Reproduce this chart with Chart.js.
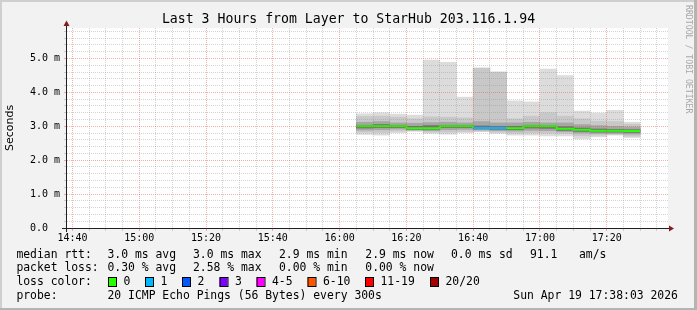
<!DOCTYPE html>
<html>
<head>
<meta charset="utf-8">
<title>Last 3 Hours from Layer to StarHub 203.116.1.94</title>
<script src="https://cdn.jsdelivr.net/npm/chart.js@4.4.1/dist/chart.umd.min.js"></script>
<style>
  html, body { margin: 0; padding: 0; background: #f2f2f2; }
  canvas { display: block; }
</style>
</head>
<body>
<canvas id="smoke" width="697" height="310"></canvas>
<script>
// time is in minutes after 14:00, one column per 300s probe round
const windowStart = 38.35;
const windowEnd = 218.35;
const stepStart = [125, 130, 135, 140, 145, 150, 155, 160, 165, 170, 175, 180, 185, 190, 195, 200, 205];
const stepEnd = 210;

// rtt in ms
const maxV   = [3.37, 3.40, 3.36, 3.33, 4.95, 4.89, 3.86, 4.72, 4.60, 3.75, 3.72, 4.69, 4.50, 3.45, 3.39, 3.47, 3.12];
const hi2    = [3.29, 3.30, 3.27, 3.22, 3.28, 3.27, 3.25, 4.72, 4.60, 3.22, 3.30, 3.40, 3.30, 3.22, 3.15, 3.14, 3.06];
const hi3    = [3.12, 3.14, 3.10, 3.09, 3.11, 3.12, 3.10, 3.14, 3.10, 3.10, 3.12, 3.10, 3.10, 3.05, 3.02, 3.00, 2.98];
const hi4    = [3.03, 3.05, 3.03, 3.00, 3.02, 3.03, 3.03, 3.01, 3.00, 3.00, 3.03, 3.02, 2.99, 2.95, 2.92, 2.91, 2.90];
const median = [3.00, 3.00, 3.00, 2.94, 2.94, 3.00, 3.00, 2.95, 2.95, 2.94, 3.00, 3.00, 2.93, 2.90, 2.87, 2.87, 2.86];
const lo4    = [2.95, 2.96, 2.96, 2.91, 2.91, 2.96, 2.96, 2.92, 2.91, 2.90, 2.95, 2.94, 2.88, 2.85, 2.83, 2.83, 2.82];
const lo3    = [2.89, 2.90, 2.92, 2.89, 2.87, 2.90, 2.91, 2.89, 2.87, 2.86, 2.88, 2.87, 2.84, 2.80, 2.79, 2.79, 2.77];
const lo2    = [2.83, 2.82, 2.86, 2.87, 2.83, 2.83, 2.85, 2.86, 2.83, 2.80, 2.81, 2.80, 2.79, 2.72, 2.74, 2.76, 2.71];
const minV   = [2.76, 2.74, 2.81, 2.85, 2.79, 2.77, 2.81, 2.84, 2.79, 2.74, 2.74, 2.72, 2.72, 2.63, 2.69, 2.74, 2.67];
const lossCount = [0, 0, 0, 0, 0, 0, 0, 1, 1, 0, 0, 0, 0, 0, 0, 0, 0];

const lossLabels = ['0', '1', '2', '3', '4-5', '6-10', '11-19', '20/20'];
const lossUpTo   = [0, 1, 2, 3, 5, 10, 19, 20];
const lossColors = ['#26ff00', '#00b8ff', '#0059ff', '#7e00ff', '#ff00ff', '#ff5500', '#ff0000', '#a10000'];

const xTickMinutes = [40, 60, 80, 100, 120, 140, 160, 180, 200];
const xTickLabels = ['14:40', '15:00', '15:20', '15:40', '16:00', '16:20', '16:40', '17:00', '17:20'];
const yTop = 5.9;
const yTickValues = [0, 1, 2, 3, 4, 5];
const yTickLabels = ['0.0', '1.0 m', '2.0 m', '3.0 m', '4.0 m', '5.0 m'];

const titleText = 'Last 3 Hours from Layer to StarHub 203.116.1.94';
const medianStats = ['3.0 ms avg', '3.0 ms max', '2.9 ms min', '2.9 ms now', '0.0 ms sd', '91.1', 'am/s'];
const lossStats = ['0.30 % avg', '2.58 % max', '0.00 % min', '0.00 % now'];
const probeText = '20 ICMP Echo Pings (56 Bytes) every 300s';
const stampText = 'Sun Apr 19 17:38:03 2026';

const GRID = 'rgba(143,143,143,0.38)';
const MGRID = 'rgba(222,79,79,0.45)';
const MONO = '"DejaVu Sans Mono", monospace';

const minorX = [];
for (let m = 40; m < windowEnd; m += 5) minorX.push(m);
const minorY = [];
for (let k = 0; k / 5 < yTop; k++) minorY.push(k / 5);

const lossIdx = n => lossUpTo.findIndex(b => n <= b);
const mids = stepStart.map((t, i) => (t + (i + 1 < stepStart.length ? stepStart[i + 1] : stepEnd)) / 2);
const band = (lo, hi) => mids.map((x, i) => ({ x: x, y: [lo[i], hi[i]] }));

const smoke = [
  { lo: lo4, hi: hi4, color: '#6f6f6f' },
  { lo: lo3, hi: hi3, color: '#a6a6a6' },
  { lo: lo2, hi: hi2, color: '#c8c8c8' },
  { lo: minV, hi: maxV, color: '#dcdcdc' }
];

const medianPts = stepStart.map((t, i) => ({ x: t, y: median[i] }));
medianPts.push({ x: stepEnd, y: median[median.length - 1] });

const gridColor = (major) => (c) => (c.tick && major(c.tick.value)) ? MGRID : GRID;
const isMajorX = v => xTickMinutes.includes(v);
const isMajorY = v => yTickValues.includes(v);

const rrdDecor = {
  id: 'rrdDecor',
  beforeDraw(chart) {
    const { ctx, chartArea: a } = chart;
    ctx.save();
    ctx.fillStyle = '#f2f2f2';
    ctx.fillRect(0, 0, chart.width, chart.height);
    ctx.fillStyle = '#ffffff';
    ctx.fillRect(a.left, a.top, a.right - a.left, a.bottom - a.top);
    ctx.restore();
  },
  afterDraw(chart) {
    const { ctx, chartArea: a } = chart;
    const W = chart.width, H = chart.height;
    ctx.save();

    // axes + arrows
    ctx.strokeStyle = '#1f1f1f';
    ctx.lineWidth = 1;
    ctx.beginPath();
    ctx.moveTo(62, a.bottom + 0.5);
    ctx.lineTo(a.right + 2, a.bottom + 0.5);
    ctx.moveTo(a.left - 0.5, a.bottom + 4);
    ctx.lineTo(a.left - 0.5, a.top - 4);
    ctx.stroke();
    ctx.fillStyle = '#801f1f';
    ctx.beginPath();
    ctx.moveTo(a.right + 1, a.bottom - 2.5);
    ctx.lineTo(a.right + 6, a.bottom + 0.5);
    ctx.lineTo(a.right + 1, a.bottom + 3.5);
    ctx.closePath();
    ctx.fill();
    ctx.beginPath();
    ctx.moveTo(a.left - 3.5, a.top - 2);
    ctx.lineTo(a.left - 0.5, a.top - 7.5);
    ctx.lineTo(a.left + 2.5, a.top - 2);
    ctx.closePath();
    ctx.fill();

    // title
    ctx.fillStyle = '#000';
    ctx.textBaseline = 'middle';
    ctx.textAlign = 'center';
    ctx.font = '13.2px ' + MONO;
    ctx.fillText(titleText, W / 2, 20);

    // vertical label
    ctx.save();
    ctx.translate(10.5, (a.top + a.bottom) / 2);
    ctx.rotate(-Math.PI / 2);
    ctx.font = '11px "DejaVu Sans", sans-serif';
    ctx.fillText('Seconds', 0, 0);
    ctx.restore();

    // watermark
    ctx.save();
    ctx.translate(688, 5);
    ctx.rotate(Math.PI / 2);
    ctx.textAlign = 'left';
    ctx.fillStyle = '#a8a8a8';
    ctx.font = '8.2px ' + MONO;
    ctx.fillText('RRDTOOL / TOBI OETIKER', 0, 0);
    ctx.restore();

    // legend block
    ctx.textAlign = 'left';
    ctx.font = '11.4px ' + MONO;
    const statX = [107.5, 193, 279, 365.3, 451, 530, 579];
    ctx.fillText('median rtt:', 16.4, 255);
    medianStats.forEach((s, i) => ctx.fillText(s, statX[i], 255));
    ctx.fillText('packet loss:', 16.4, 268.5);
    lossStats.forEach((s, i) => ctx.fillText(s, statX[i], 268.5));
    ctx.fillText('loss color:', 16.4, 282);
    const boxX = [108, 145, 182, 219.5, 256.5, 307.5, 365, 430];
    lossLabels.forEach((s, i) => {
      ctx.fillStyle = lossColors[i];
      ctx.fillRect(boxX[i], 277.5, 8, 9);
      ctx.strokeStyle = '#000';
      ctx.strokeRect(boxX[i] + 0.5, 277.5, 8, 9);
      ctx.fillStyle = '#000';
      ctx.fillText(s, boxX[i] + 15.5, 282);
    });
    ctx.fillText('probe:', 16.4, 296);
    ctx.fillText(probeText, 107.5, 296);
    ctx.fillText(stampText, 513.3, 296);

    // frame
    ctx.fillStyle = '#cfcfcf';
    ctx.fillRect(0, 0, W, 2);
    ctx.fillRect(0, 0, 2, H);
    ctx.fillStyle = '#b4b4b4';
    ctx.fillRect(0, H - 2, W, 2);
    ctx.fillRect(W - 3, 0, 3, H);
    ctx.restore();
  }
};

new Chart(document.getElementById('smoke'), {
  type: 'bar',
  data: {
    datasets: [
      {
        type: 'line',
        data: medianPts,
        stepped: 'before',
        borderWidth: 2,
        borderColor: lossColors[0],
        segment: { borderColor: c => lossColors[lossIdx(lossCount[c.p0DataIndex])] },
        pointRadius: 0,
        fill: false,
        order: 0
      },
      ...smoke.map((s, k) => ({
        type: 'bar',
        data: band(s.lo, s.hi),
        backgroundColor: s.color,
        borderWidth: 0,
        grouped: false,
        barPercentage: 1,
        categoryPercentage: 1,
        order: k + 1
      }))
    ]
  },
  options: {
    responsive: false,
    animation: false,
    devicePixelRatio: 1,
    layout: { padding: { left: 30, top: 28, right: 29, bottom: 0 } },
    plugins: { legend: { display: false }, tooltip: { enabled: false }, title: { display: false } },
    scales: {
      x: {
        type: 'linear',
        min: windowStart,
        max: windowEnd,
        offset: false,
        afterBuildTicks: s => { s.ticks = minorX.map(v => ({ value: v })); },
        afterFit: s => { s.height = 82; },
        grid: { z: 1, offset: false, color: gridColor(isMajorX), tickLength: 3 },
        border: { display: false, dash: [1, 1] },
        ticks: {
          autoSkip: false, maxRotation: 0, minRotation: 0, padding: 1,
          color: '#000', font: { family: MONO, size: 10 },
          callback: v => { const i = xTickMinutes.indexOf(v); return i < 0 ? '' : xTickLabels[i]; }
        }
      },
      y: {
        type: 'linear',
        min: 0,
        max: yTop,
        afterBuildTicks: s => { s.ticks = minorY.map(v => ({ value: v })); },
        afterFit: s => { s.width = 37; },
        grid: { z: 1, color: gridColor(isMajorY), tickLength: 3 },
        border: { display: false, dash: [1, 1] },
        ticks: {
          autoSkip: false, crossAlign: 'far',
          color: '#000', font: { family: MONO, size: 10 },
          callback: v => { const i = yTickValues.indexOf(v); return i < 0 ? '' : yTickLabels[i]; }
        }
      }
    }
  },
  plugins: [rrdDecor]
});
</script>
</body>
</html>
